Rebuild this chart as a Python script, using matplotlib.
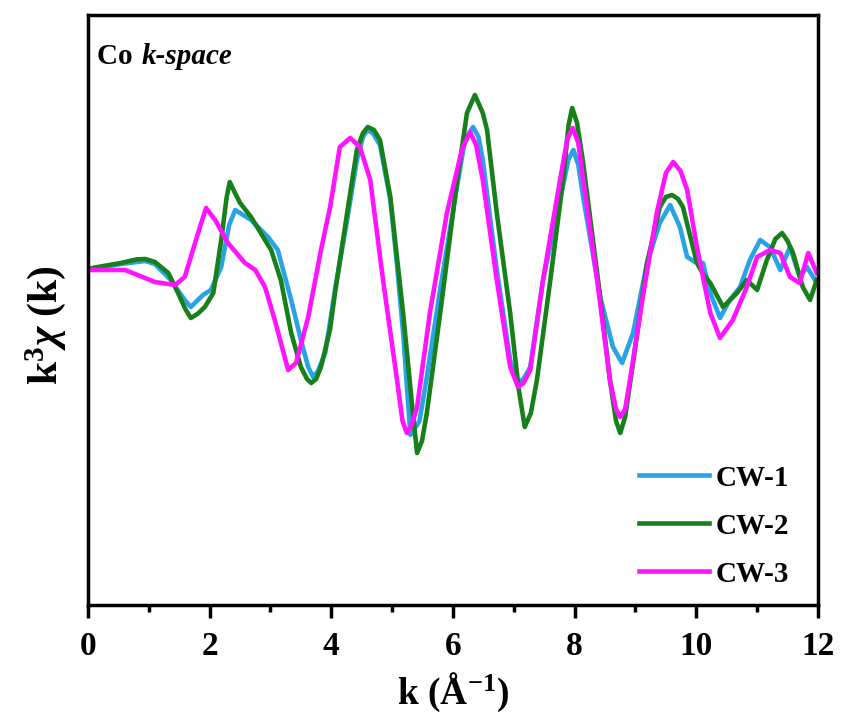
import matplotlib.pyplot as plt
from matplotlib.ticker import MultipleLocator

plt.rcParams['font.family'] = 'Liberation Serif'
plt.rcParams['font.weight'] = 'bold'
plt.rcParams['mathtext.fontset'] = 'custom'
plt.rcParams['mathtext.rm'] = 'Liberation Serif:bold'
plt.rcParams['mathtext.bf'] = 'Liberation Serif:bold'
plt.rcParams['mathtext.it'] = 'Liberation Serif:italic'

# CW-1
k1 = [0, 0.54, 0.94, 1.10, 1.36, 1.59, 1.69, 1.89, 2.02, 2.19, 2.32, 2.42, 2.55, 2.68,
      2.96, 3.12, 3.34, 3.50, 3.62, 3.70, 3.78, 3.90, 4.06, 4.26, 4.42, 4.52, 4.59, 4.68,
      4.80, 4.97, 5.08, 5.18, 5.30, 5.45, 5.57, 5.79, 6.07, 6.20, 6.33, 6.42, 6.49, 6.72,
      6.94, 7.05, 7.16, 7.27, 7.48, 7.76, 7.90, 7.98, 8.06, 8.14, 8.42, 8.63, 8.78, 8.96,
      9.19, 9.40, 9.57, 9.73, 9.85, 9.98, 10.11, 10.23, 10.39, 10.55, 10.72, 10.88, 11.05,
      11.21, 11.38, 11.54, 11.70, 11.82, 11.98]
cw1 = [0, 0.25, 0.4, 0.25, -0.55, -1.55, -1.9, -1.3, -1.05, 0.1, 2.2, 2.95, 2.7, 2.45,
       1.6, 0.95, -1.55, -3.55, -4.9, -5.4, -5.1, -4.2, -1.05, 2.45, 5.45, 6.6, 6.95, 6.8,
       6.2, 3.45, 0.2, -3.2, -8.3, -7.6, -5.4, -1.0, 4.2, 6.5, 7.1, 6.6, 5.45, -0.05,
       -4.55, -5.7, -5.5, -4.9, -0.55, 3.45, 5.5, 5.95, 5.2, 3.6, -1.4, -3.9, -4.7, -3.2,
       0.3, 2.3, 3.2, 2.1, 0.6, 0.35, 0.3, -1.2, -2.45, -1.55, -0.9, 0.45, 1.45,
       1.1, -0.05, 1.1, -0.4, 0.1, -0.7]

# CW-2
k2 = [0, 0.16, 0.54, 0.80, 0.94, 1.10, 1.32, 1.48, 1.60, 1.69, 1.80, 1.92, 2.06, 2.19,
      2.28, 2.33, 2.40, 2.50, 2.68, 2.84, 3.01, 3.17, 3.34, 3.50, 3.60, 3.67, 3.75, 3.83,
      3.98, 4.06, 4.26, 4.42, 4.52, 4.60, 4.70, 4.80, 4.97, 5.18, 5.34, 5.41, 5.49, 5.57,
      5.79, 6.07, 6.23, 6.36, 6.49, 6.56, 6.72, 6.94, 7.08, 7.18, 7.28, 7.38, 7.60, 7.81,
      7.90, 7.96, 8.04, 8.14, 8.42, 8.58, 8.68, 8.75, 8.83, 8.96, 9.19, 9.40, 9.50, 9.60,
      9.70, 9.78, 10.01, 10.12, 10.23, 10.44, 10.67, 10.83, 11.00, 11.16, 11.30, 11.41,
      11.50, 11.59, 11.75, 11.87, 11.98]
cw2 = [0, 0.1, 0.3, 0.48, 0.5, 0.35, -0.2, -1.2, -2.0, -2.45, -2.25, -1.9, -1.2, 1.45,
       3.6, 4.35, 3.9, 3.3, 2.6, 1.8, 0.95, -0.55, -3.2, -4.9, -5.5, -5.7, -5.5, -4.9,
       -3.0, -1.2, 2.8, 5.95, 6.8, 7.1, 6.95, 6.45, 3.6, -2.2, -7.2, -9.2, -8.6, -7.2,
       -2.2, 4.45, 7.8, 8.7, 7.8, 6.95, 2.8, -2.2, -6.0, -7.9, -7.2, -5.55, -0.55, 4.45,
       7.2, 8.05, 7.3, 5.3, -1.4, -5.55, -7.6, -8.2, -7.4, -4.7, 0.3, 3.1, 3.6, 3.7,
       3.5, 3.1, 0.3, -0.3, -0.7, -1.9, -1.2, -0.55, -1.05, 0.45, 1.5, 1.8,
       1.4, 0.8, -0.9, -1.55, -0.55]

# CW-3
k3 = [0, 0.61, 1.10, 1.43, 1.59, 1.81, 1.94, 2.09, 2.30, 2.58, 2.75, 2.91, 3.07, 3.29,
      3.42, 3.62, 3.83, 3.98, 4.14, 4.31, 4.47, 4.64, 4.85, 5.08, 5.17, 5.24, 5.32, 5.41,
      5.62, 5.90, 6.15, 6.28, 6.38, 6.49, 6.72, 6.94, 7.07, 7.16, 7.27, 7.48, 7.76, 7.88,
      7.97, 8.06, 8.14, 8.37, 8.58, 8.68, 8.75, 8.83, 8.91, 9.12, 9.35, 9.50, 9.62, 9.74,
      9.85, 10.01, 10.23, 10.39, 10.60, 10.83, 11.00, 11.21, 11.38, 11.54, 11.70, 11.84,
      11.98]
cw3 = [-0.05, -0.05, -0.65, -0.8, -0.4, 1.8, 3.05, 2.45, 1.3, 0.3, -0.05, -0.9, -2.55, -5.05,
       -4.7, -2.4, 0.95, 3.1, 6.1, 6.55, 6.1, 4.45, -0.55, -5.55, -7.6, -8.2, -7.8, -6.9,
       -2.2, 2.8, 6.0, 6.85, 6.2, 4.45, -0.55, -4.9, -5.9, -5.7, -5.05, -0.55, 4.45, 6.5,
       7.05, 6.3, 4.45, -0.55, -5.55, -7.0, -7.4, -7.0, -5.55, -1.4, 2.8, 4.8, 5.35, 4.9,
       3.95, 1.1, -2.2, -3.45, -2.55, -0.9, 0.6, 0.95, 0.8, -0.4, -0.7, 0.8,
       -0.2]

labels = ['CW-1', 'CW-2', 'CW-3']
colors = ['#29a3e6', '#17801a', '#ff14ff']

fig = plt.figure(figsize=(8.43, 7.27), dpi=100)
ax = fig.add_axes([0.1044, 0.1678, 0.8659, 0.8116])

for kk, yy, lab, c in zip([k1, k2, k3], [cw1, cw2, cw3], labels, colors):
    ax.plot(kk, yy, color=c, lw=3.3, label=lab, solid_joinstyle='round')

ax.set_xlim(0, 12)
ax.set_ylim(-16.8, 12.7)
ax.xaxis.set_major_locator(MultipleLocator(2))
ax.xaxis.set_minor_locator(MultipleLocator(1))
ax.set_yticks([])
ax.tick_params(axis='x', which='major', direction='out', length=9, width=2.5,
               labelsize=24, pad=10)
ax.tick_params(axis='x', which='minor', direction='out', length=5, width=2.5)
for s in ax.spines.values():
    s.set_linewidth(2.5)

ax.set_xlabel(r'k (Å$^{\mathbf{-1}}$)', fontsize=27, fontweight='bold', labelpad=6)
ax.set_ylabel(r'k$^{\mathbf{3}}\chi$ (k)', fontsize=30, fontweight='bold')
ax.yaxis.set_label_coords(-0.028, 0.475)

ax.text(0.012, 0.953, 'Co ', transform=ax.transAxes, fontsize=21, fontweight='bold',
        va='top', ha='left')
ax.text(0.074, 0.953, 'k-space', transform=ax.transAxes, fontsize=21, fontweight='bold',
        style='italic', va='top', ha='left')

ax.legend(loc='lower right', bbox_to_anchor=(0.996, -0.015), frameon=False, fontsize=21,
          handlelength=2.4, handletextpad=0.2, labelspacing=0.72)

fig.savefig('out.png', dpi=100)
